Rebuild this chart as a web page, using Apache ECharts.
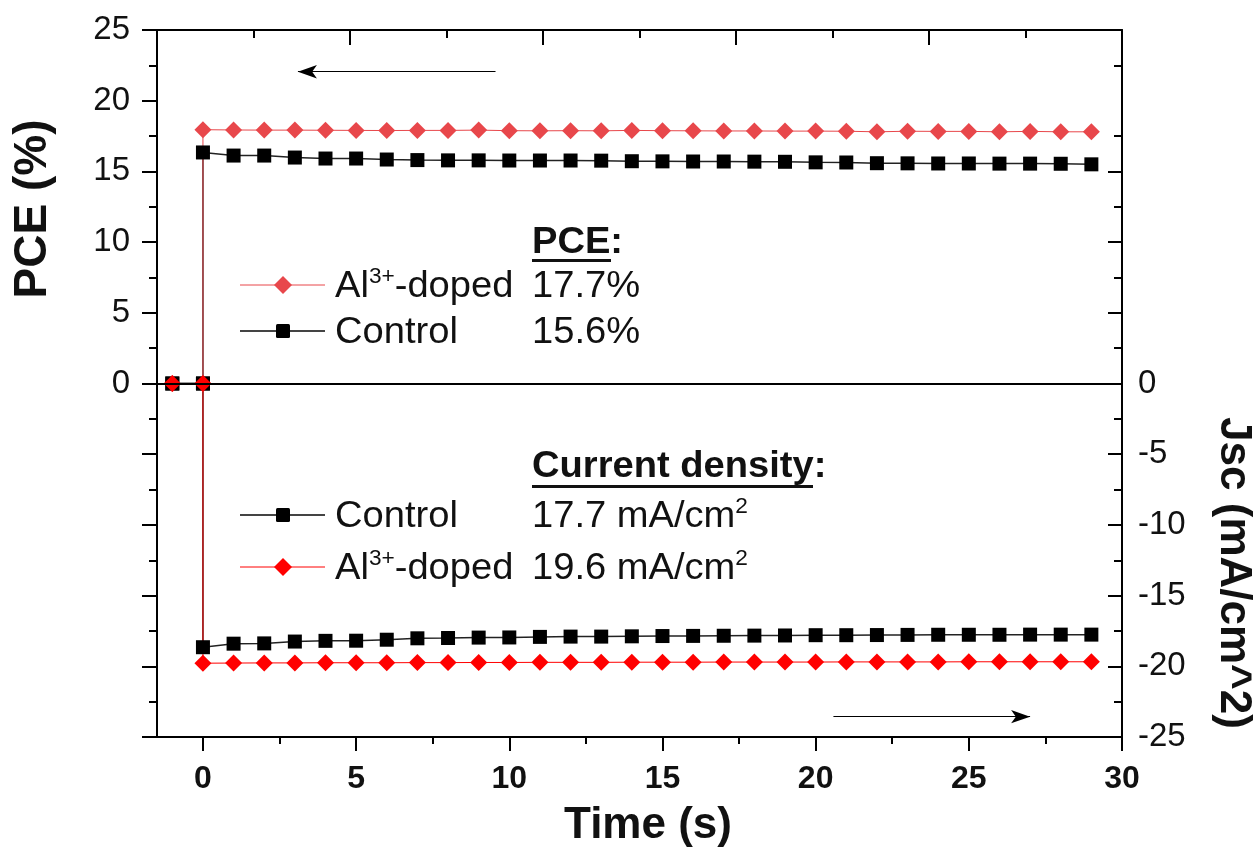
<!DOCTYPE html>
<html>
<head>
<meta charset="utf-8">
<script src="https://cdn.jsdelivr.net/npm/echarts@6/dist/echarts.min.js"></script>
<style>
  html, body { margin: 0; padding: 0; background: #ffffff; }
  #chart { width: 1259px; height: 851px; }
</style>
</head>
<body>
<div id="chart"></div>
<script>
// Time after light-on (s)
const time = [0, 1, 2, 3, 4, 5, 6, 7, 8, 9, 10, 11, 12, 13, 14, 15, 16, 17, 18, 19, 20, 21, 22, 23, 24, 25, 26, 27, 28, 29];
// Dark baseline before the bias is applied
const baselineTime = [-1, 0];
const baselineValue = [0, 0];

// Stabilised power conversion efficiency (%)
const pceDoped = [17.95, 17.93, 17.92, 17.92, 17.91, 17.90, 17.89, 17.90, 17.90, 17.92, 17.88, 17.87, 17.88, 17.87, 17.90,
                  17.88, 17.87, 17.86, 17.86, 17.85, 17.85, 17.84, 17.80, 17.84, 17.83, 17.83, 17.80, 17.83, 17.80, 17.80];
const pceControl = [16.34, 16.12, 16.12, 15.98, 15.91, 15.91, 15.84, 15.80, 15.78, 15.78, 15.77, 15.77, 15.77, 15.76, 15.72,
                    15.71, 15.70, 15.70, 15.69, 15.68, 15.64, 15.63, 15.58, 15.57, 15.56, 15.56, 15.55, 15.55, 15.54, 15.50];

// Current density at the maximum power point (mA/cm^2)
const jscControl = [-18.65, -18.40, -18.38, -18.25, -18.20, -18.19, -18.12, -18.02, -18.00, -17.97, -17.96, -17.92, -17.90, -17.90, -17.88,
                    -17.86, -17.85, -17.84, -17.83, -17.82, -17.80, -17.80, -17.79, -17.78, -17.77, -17.77, -17.77, -17.76, -17.76, -17.76];
const jscDoped = [-19.78, -19.77, -19.76, -19.76, -19.75, -19.75, -19.75, -19.74, -19.74, -19.73, -19.73, -19.72, -19.72, -19.72, -19.71,
                  -19.71, -19.71, -19.70, -19.70, -19.70, -19.70, -19.69, -19.69, -19.69, -19.69, -19.68, -19.68, -19.68, -19.68, -19.68];

// Axis ticks
const xMajorTicks = [0, 5, 10, 15, 20, 25, 30];
const xMinorTicks = [2.5, 7.5, 12.5, 17.5, 22.5, 27.5];
const rightMajorTicks = [-25, -20, -15, -10, -5, 0, 5, 10, 15];
const rightMinorTicks = [-22.5, -17.5, -12.5, -7.5, -2.5, 2.5, 7.5, 12.5, 17.5, 22.5];
const rightLabels = [0, -5, -10, -15, -20, -25];

// Direction arrows (which axis each block of curves belongs to)
const pceArrow = [[9.55, 22.05], [3.1, 22.05]];
const jscArrow = [[20.58, -23.56], [27.0, -23.56]];

// Summary legend
const pceSummary = [
  { name: 'Al{sup|3+}-doped', value: '17.7%', color: '#e8474b', symbol: 'diamond' },
  { name: 'Control', value: '15.6%', color: '#000000', symbol: 'square' }
];
const jscSummary = [
  { name: 'Control', value: '17.7 mA/cm{sup|2}', color: '#000000', symbol: 'square' },
  { name: 'Al{sup|3+}-doped', value: '19.6 mA/cm{sup|2}', color: '#ff0000', symbol: 'diamond' }
];

const FONT = "'Liberation Sans', Arial, Helvetica, sans-serif";
const INK = '#111111';
const PCE_RED = '#e8474b';
const JSC_RED = '#ff0000';
const LEGEND_SIZE = 37;

function withBaseline(values) {
  return baselineTime.map((t, i) => [t, baselineValue[i]])
    .concat(time.map((t, i) => [t, values[i]]));
}

const chart = echarts.init(document.getElementById('chart'), null, { renderer: 'canvas' });

const axisLine = { show: true, onZero: false, lineStyle: { color: '#000', width: 2 } };
const noLine = { show: false, onZero: false };

// Legend block built from shapes and rich text
const supRich = {
  sup: { fontSize: 22, fontFamily: FONT, color: INK, verticalAlign: 'top', lineHeight: 18 }
};
function summaryRow(item, y) {
  const els = [];
  els.push({
    type: 'line', shape: { x1: 240, y1: y, x2: 325, y2: y },
    style: { stroke: item.symbol === 'square' ? '#444' : item.color, lineWidth: item.symbol === 'square' ? 2 : 1 }
  });
  if (item.symbol === 'diamond') {
    els.push({
      type: 'polygon', shape: { points: [[283, y - 9], [292, y], [283, y + 9], [274, y]] },
      style: { fill: item.color }
    });
  } else {
    els.push({
      type: 'rect', shape: { x: 276, y: y - 7, width: 14, height: 14, r: 1.5 },
      style: { fill: item.color }
    });
  }
  els.push({
    type: 'text', x: 335, y: y + 2, scaleX: 1.03,
    style: {
      text: item.name, fontFamily: FONT, fontSize: LEGEND_SIZE, fill: INK,
      verticalAlign: 'middle', align: 'left', lineHeight: 42, rich: supRich
    }
  });
  els.push({
    type: 'text', x: 532, y: y + 2, scaleX: 1.03,
    style: {
      text: item.value, fontFamily: FONT, fontSize: LEGEND_SIZE, fill: INK,
      verticalAlign: 'middle', align: 'left', lineHeight: 42, rich: supRich
    }
  });
  return els;
}

const graphics = [
  // axis titles
  { type: 'text', x: 33, y: 209, rotation: Math.PI / 2,
    style: { text: 'PCE (%)', fontFamily: FONT, fontSize: 46, fontWeight: 'bold', fill: INK, align: 'center', verticalAlign: 'middle' } },
  { type: 'text', x: 1233, y: 573, rotation: -Math.PI / 2,
    style: { text: 'Jsc (mA/cm^2)', fontFamily: FONT, fontSize: 44, fontWeight: 'bold', fill: INK, align: 'center', verticalAlign: 'middle' } },
  { type: 'text', x: 648, y: 826,
    style: { text: 'Time (s)', fontFamily: FONT, fontSize: 44, fontWeight: 'bold', fill: INK, align: 'center', verticalAlign: 'middle' } },
  // block headings
  { type: 'text', x: 532, y: 243, scaleX: 1.03,
    style: { text: 'PCE:', fontFamily: FONT, fontSize: LEGEND_SIZE, fontWeight: 'bold', fill: INK, align: 'left', verticalAlign: 'middle' } },
  { type: 'rect', shape: { x: 532, y: 259, width: 79, height: 3 }, style: { fill: INK } },
  { type: 'text', x: 532, y: 467, scaleX: 1.03,
    style: { text: 'Current density:', fontFamily: FONT, fontSize: LEGEND_SIZE, fontWeight: 'bold', fill: INK, align: 'left', verticalAlign: 'middle' } },
  { type: 'rect', shape: { x: 532, y: 485, width: 281, height: 3 }, style: { fill: INK } }
]
  .concat(summaryRow(pceSummary[0], 285))
  .concat(summaryRow(pceSummary[1], 331))
  .concat(summaryRow(jscSummary[0], 515))
  .concat(summaryRow(jscSummary[1], 567));

const arrowEnd = { symbol: 'arrow', symbolSize: [10, 19] };

const option = {
  animation: false,
  backgroundColor: '#ffffff',
  grid: { left: 157, right: 137, top: 30, bottom: 114, containLabel: false, outerBoundsMode: 'none' },
  xAxis: [
    {
      type: 'value', position: 'bottom', min: -1.5, max: 30,
      axisLine: axisLine,
      axisTick: { show: true, customValues: xMajorTicks, length: 14, lineStyle: { color: '#000', width: 2 } },
      axisLabel: { show: true, customValues: xMajorTicks, fontFamily: FONT, fontSize: 32, fontWeight: 'bold', color: INK, margin: 26 },
      splitLine: { show: false }
    },
    {
      type: 'value', position: 'bottom', min: -1.5, max: 30,
      axisLine: noLine,
      axisTick: { show: true, customValues: xMinorTicks, length: 7, lineStyle: { color: '#000', width: 2 } },
      axisLabel: { show: false },
      splitLine: { show: false }
    },
    {
      type: 'value', position: 'top', min: 0, max: 10,
      axisLine: axisLine,
      axisTick: { show: true, inside: true, customValues: [2, 4, 6, 8], length: 15, lineStyle: { color: '#000', width: 2 } },
      axisLabel: { show: false },
      splitLine: { show: false }
    },
    {
      type: 'value', position: 'top', min: 0, max: 10,
      axisLine: noLine,
      axisTick: { show: true, inside: true, customValues: [1, 3, 5, 7, 9], length: 8, lineStyle: { color: '#000', width: 2 } },
      axisLabel: { show: false },
      splitLine: { show: false }
    }
  ],
  yAxis: [
    {
      type: 'value', position: 'left', min: -25, max: 25, interval: 5,
      axisLine: axisLine,
      axisTick: { show: true, length: 15, lineStyle: { color: '#000', width: 2 } },
      minorTick: { show: true, splitNumber: 2, length: 8, lineStyle: { color: '#000', width: 2 } },
      axisLabel: {
        fontFamily: FONT, fontSize: 33, color: INK, margin: 27,
        formatter: v => (v >= 0 ? String(v) : '')
      },
      splitLine: { show: false }
    },
    {
      type: 'value', position: 'right', min: -25, max: 25,
      axisLine: axisLine,
      axisTick: { show: true, inside: true, customValues: rightMajorTicks, length: 14, lineStyle: { color: '#000', width: 2 } },
      axisLabel: { show: true, customValues: rightLabels, fontFamily: FONT, fontSize: 33, color: INK, margin: 16 },
      splitLine: { show: false }
    },
    {
      type: 'value', position: 'right', min: -25, max: 25,
      axisLine: noLine,
      axisTick: { show: true, inside: true, customValues: rightMinorTicks, length: 8, lineStyle: { color: '#000', width: 2 } },
      axisLabel: { show: false },
      splitLine: { show: false }
    }
  ],
  graphic: graphics,
  series: [
    {
      name: 'PCE Control', type: 'line', xAxisIndex: 0, yAxisIndex: 0,
      data: withBaseline(pceControl),
      symbol: 'rect', symbolSize: 14,
      itemStyle: { color: '#000000' },
      lineStyle: { color: '#222222', width: 1.5 },
      silent: true,
      markLine: {
        silent: true, symbol: ['none', 'none'], label: { show: false },
        lineStyle: { color: '#000', width: 2, type: 'solid' },
        data: [{ yAxis: 0 }]
      }
    },
    {
      name: 'PCE Al-doped', type: 'line', xAxisIndex: 0, yAxisIndex: 0,
      data: withBaseline(pceDoped),
      symbol: 'diamond', symbolSize: [17, 17],
      itemStyle: { color: PCE_RED },
      lineStyle: { color: PCE_RED, width: 1 },
      silent: true,
      markLine: {
        silent: true, symbol: ['none', 'arrow'], symbolSize: 16, label: { show: false },
        lineStyle: { color: '#000', width: 1.2, type: 'solid' },
        itemStyle: { color: '#000' },
        data: [
          [{ coord: pceArrow[0], symbol: 'none' }, Object.assign({ coord: pceArrow[1] }, arrowEnd)],
          [{ coord: jscArrow[0], symbol: 'none' }, Object.assign({ coord: jscArrow[1] }, arrowEnd)]
        ]
      }
    },
    {
      name: 'Jsc Control', type: 'line', xAxisIndex: 0, yAxisIndex: 1,
      data: withBaseline(jscControl),
      symbol: 'rect', symbolSize: 14,
      itemStyle: { color: '#000000' },
      lineStyle: { color: '#222222', width: 1.5 },
      silent: true
    },
    {
      name: 'Jsc Al-doped', type: 'line', xAxisIndex: 0, yAxisIndex: 1,
      data: withBaseline(jscDoped),
      symbol: 'diamond', symbolSize: [17, 17],
      itemStyle: { color: JSC_RED },
      lineStyle: { color: JSC_RED, width: 1 },
      silent: true
    }
  ]
};

chart.setOption(option);
</script>
</body>
</html>
